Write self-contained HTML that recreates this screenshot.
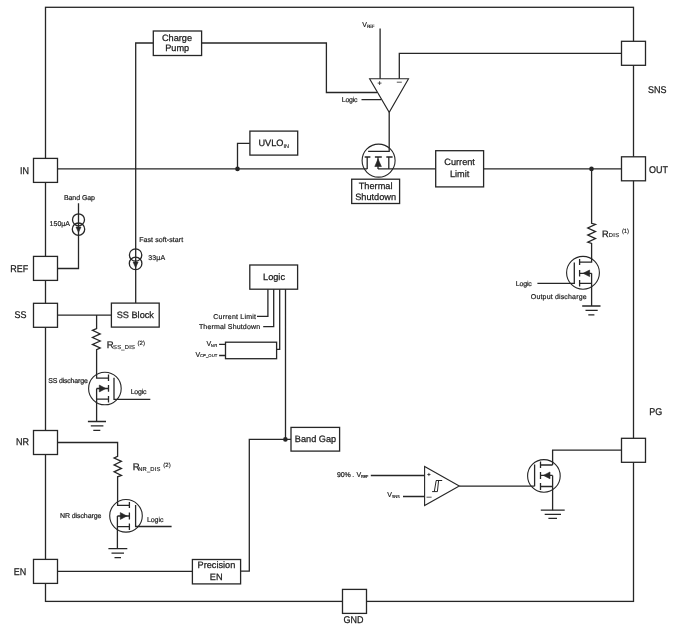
<!DOCTYPE html>
<html><head><meta charset="utf-8">
<style>
html,body{margin:0;padding:0;background:#fff;width:687px;height:631px;overflow:hidden}
svg{display:block;will-change:transform}
text{font-family:"Liberation Sans",sans-serif;text-rendering:geometricPrecision;fill:#1a1a1a;stroke:#1a1a1a;stroke-width:0.25px}
.l{stroke:#262626;stroke-width:1.3;fill:none}
.c{stroke-width:1.1}
.ar{fill:#262626;stroke:#262626;stroke-width:0.6}
.b{stroke:#262626;stroke-width:1.3;fill:#fff}
.p{font-size:9.8px}
.m{font-size:9.2px}
.s{font-size:7px;stroke-width:0.2px}
.sub{font-size:5.8px;stroke-width:0.15px}
.sup{font-size:6px;stroke-width:0.15px}
</style></head><body>
<svg width="687" height="631" viewBox="0 0 687 631">
<!-- frame -->
<rect class="l" x="45.5" y="7.3" width="588" height="594.1"/>

<!-- main IN-OUT line -->
<path class="l" d="M57.5 168.9H367.2 M378 168.9H621.5"/>
<circle cx="237.5" cy="168.9" r="2.3" fill="#262626"/>
<circle cx="591.5" cy="168.9" r="2.3" fill="#262626"/>

<!-- UVLO -->
<path class="l" d="M249.9 143.3H237.5V168.9"/>
<rect class="b" x="249.9" y="131.1" width="47.8" height="24"/>
<text class="m" x="258.4" y="146">UVLO</text><text class="sub" x="283.4" y="147.8" style="font-size:5.5px">IN</text>

<!-- Charge pump wires -->
<path class="l" d="M135.7 303.1V43H153.3 M201.6 43H326.4V92.5H377"/>
<rect class="b" x="153.3" y="31" width="48.3" height="24.5"/>
<text class="m" x="177" y="40.8" text-anchor="middle">Charge</text>
<text class="m" x="177.2" y="50.8" text-anchor="middle">Pump</text>

<!-- opamp -->
<path class="l c" d="M369.6 78.7H408.5L389.2 112.3Z"/>
<path class="l" d="M380.1 28.4V78.7 M399.3 78.7V53.3H621.5 M361.5 99.6H381 M389.2 112.3V151.3H368.1"/>
<text class="s" x="362.2" y="26.6">V</text><text class="sub" x="366.8" y="27.6" style="font-size:4.5px" textLength="7.6">REF</text>
<text class="s" x="341.7" y="102.3" textLength="15.9">Logic</text>
<path class="l" d="M377.7 83.1H381.5 M379.6 81.2V85 M396.8 82.2H401.8" style="stroke-width:0.8"/>

<!-- pass FET -->
<circle class="l c" cx="378.6" cy="160.6" r="16.5"/>
<path class="l" d="M364.7 157H370.4 M374.9 157H381.8 M386.3 157H392.6 M367.2 157V168.9 M388.8 157V168.9 M378 157V168.9"/>
<path class="ar" d="M374.8 166.5H381.4L378 159Z"/>
<rect class="b" x="351.7" y="179.2" width="47.9" height="24.3"/>
<text class="m" x="375.6" y="188.8" text-anchor="middle">Thermal</text>
<text class="m" x="375.6" y="199.6" text-anchor="middle">Shutdown</text>

<!-- Current limit -->
<rect class="b" x="435.7" y="150.7" width="47.9" height="36.2"/>
<text class="m" x="459.6" y="165.2" text-anchor="middle">Current</text>
<text class="m" x="459.6" y="176.5" text-anchor="middle">Limit</text>

<!-- SNS / pins -->
<rect class="b" x="621.5" y="41.3" width="24" height="24"/>
<rect class="b" x="621.5" y="156.8" width="24" height="24"/>
<rect class="b" x="621.5" y="438.3" width="24" height="24"/>
<rect class="b" x="33.5" y="158.4" width="24" height="24"/>
<rect class="b" x="33.5" y="256.4" width="24" height="24"/>
<rect class="b" x="33.5" y="303.3" width="24" height="24"/>
<rect class="b" x="33.5" y="430.5" width="24" height="24"/>
<rect class="b" x="33.5" y="559.4" width="24" height="24"/>
<rect class="b" x="342.5" y="589.4" width="24" height="24"/>
<text class="p" x="648" y="92.5" textLength="18.51" lengthAdjust="spacingAndGlyphs">SNS</text>
<text class="p" x="649" y="172.6" textLength="19.0" lengthAdjust="spacingAndGlyphs">OUT</text>
<text class="p" x="649.2" y="414.6" textLength="13.0" lengthAdjust="spacingAndGlyphs">PG</text>
<text class="p" x="20" y="173.5" textLength="9.0" lengthAdjust="spacingAndGlyphs">IN</text>
<text class="p" x="10.2" y="271.6" textLength="18.0" lengthAdjust="spacingAndGlyphs">REF</text>
<text class="p" x="14.6" y="317.6" textLength="12.01" lengthAdjust="spacingAndGlyphs">SS</text>
<text class="p" x="16" y="444.6" textLength="13.0" lengthAdjust="spacingAndGlyphs">NR</text>
<text class="p" x="13.8" y="574.6" textLength="12.5" lengthAdjust="spacingAndGlyphs">EN</text>
<text class="p" x="343.4" y="623.1" textLength="20.0" lengthAdjust="spacingAndGlyphs">GND</text>

<!-- Band gap current source -->
<path class="l" d="M78.5 203.3V268.5H57.5"/>
<circle class="l" cx="78.5" cy="219.8" r="6"/>
<circle class="l" cx="78.5" cy="229.2" r="6.2"/>
<path d="M76 227H81L78.5 232.3Z" fill="#262626" stroke="#262626" stroke-width="0.6"/>
<text class="s" x="63.9" y="200" textLength="31.1">Band Gap</text>
<text class="s" x="49.6" y="226" textLength="20.4">150µA</text>

<!-- SS -->
<path class="l" d="M57.5 315.1H111.4"/>
<rect class="b" x="111.4" y="303.1" width="47.8" height="24"/>
<text class="m" x="135.3" y="317.5" text-anchor="middle">SS Block</text>
<circle class="l" cx="135.6" cy="255" r="6.2"/>
<circle class="l" cx="135.6" cy="263.4" r="6.3"/>
<path d="M133.1 262H138.1L135.6 267.6Z" fill="#262626" stroke="#262626" stroke-width="0.6"/>
<text class="s" x="139.2" y="242" textLength="43.9">Fast soft-start</text>
<text class="s" x="148.2" y="260" textLength="16.9">33µA</text>

<!-- SS discharge -->
<path class="l" d="M96.6 315V328.6 L92.5 330.3 L100.2 333.9 L92.5 337.5 L100.2 341 L92.5 344.4 L100.2 348 L96.6 349.7 V378.1 H108.5 M96.6 388.5H108.5 M96.6 388.5V421.5 M96.6 399.2H108.5"/>
<circle class="l c" cx="104.9" cy="388.5" r="16.3"/>
<path class="l" d="M108.5 374.6V381 M108.5 385V391.7 M108.5 396V402.5 M114 377.7V399.3H150.3"/>
<path class="ar" d="M99.3 385.1V391.9L105.8 388.5Z"/>
<path class="l" d="M87.9 421.5H106 M90.8 425.9H103.4 M93.3 430.3H100.3"/>
<text class="s" x="48.2" y="383.1" textLength="39.6">SS discharge</text>
<text class="s" x="130.7" y="394" textLength="15.8">Logic</text>
<text class="m" x="106.8" y="347.6" style="font-size:9.6px">R</text><text class="sub" x="113.1" y="348.6" textLength="21.8">SS_DIS</text>
<text class="sup" x="137.6" y="344.5">(2)</text>

<!-- NR discharge -->
<path class="l" d="M57.5 442.5H117.6V456.3 L114.1 458 L121.4 461.3 L114.1 464.9 L121.4 468.4 L114.1 471.8 L121.4 475.4 L117.6 476.8 V505.3H129.4 M117.4 516V548.6 M117.4 516H129.4 M117.4 526.7H129.4"/>
<circle class="l c" cx="126" cy="515.8" r="16.3"/>
<path class="l" d="M129.4 502V508 M129.4 512.5V519.5 M129.4 523.5V530 M135.6 505V526.5H171.6"/>
<path class="ar" d="M120.3 512.6V519.4L126.8 516Z"/>
<path class="l" d="M108.4 548.6H127.3 M111.5 553.1H124 M114.5 557.6H121"/>
<text class="s" x="59.9" y="518" textLength="41.6">NR discharge</text>
<text class="s" x="146.9" y="522" textLength="16.5">Logic</text>
<text class="m" x="132.7" y="470.4" style="font-size:9.6px">R</text><text class="sub" x="138.2" y="470.6" textLength="22.2">NR_DIS</text>
<text class="sup" x="163.3" y="467">(2)</text>

<!-- EN / precision EN -->
<path class="l" d="M57.5 571.4H192.4 M240.6 571.2H249.3V439.4H291"/>
<rect class="b" x="192.4" y="559.5" width="48.2" height="24.4"/>
<text class="m" x="216.4" y="568.4" text-anchor="middle">Precision</text>
<text class="m" x="216.2" y="579.8" text-anchor="middle">EN</text>
<circle cx="285.4" cy="439.4" r="2.3" fill="#262626"/>
<rect class="b" x="291" y="427.4" width="48.6" height="23.7"/>
<text class="m" x="315.5" y="441.7" text-anchor="middle">Band Gap</text>

<!-- Logic block -->
<rect class="b" x="249.8" y="265" width="47.8" height="24.2"/>
<text class="m" x="274" y="279.7" text-anchor="middle">Logic</text>
<path class="l" d="M267.9 289.2V316.4H257 M273.7 289.2V326.7H263.2 M279.7 289.2V349.4H276.6 M285.5 289.2V439.4"/>
<rect class="l" x="225.5" y="342.2" width="51.1" height="16.5"/>
<path class="l" d="M219.1 344.3H225.5 M219.1 355.5H225.5"/>
<text class="s" x="213.3" y="318.8" textLength="42.7">Current Limit</text>
<text class="s" x="198.9" y="329.1" textLength="61.2">Thermal Shutdown</text>
<text class="s" x="206.5" y="345.8">V</text><text class="sub" x="210.7" y="346.6" style="font-size:4.2px" textLength="6.7">NR</text>
<text class="s" x="195.4" y="356.8">V</text><text class="sub" x="199.9" y="357.4" style="font-size:4.2px" textLength="17.5">CP_OUT</text>

<!-- output discharge -->
<path class="l" d="M591.6 168.9V223.3 L595.5 224.4 L587.8 228 L595.5 231.6 L587.8 235.1 L595.5 238.6 L587.8 242.2 L591.6 243.5 V262.2H579.6 M591.6 273.3V306 M591.6 273.3H579.6 M591.6 283.3H579.6"/>
<circle class="l c" cx="583" cy="272.8" r="16.4"/>
<path class="l" d="M579.6 259V265 M579.6 270V276.5 M579.6 280V286.5 M574.3 262.6V283.4H537.4"/>
<path class="ar" d="M589.6 270V276.6L583.1 273.3Z"/>
<path class="l" d="M582.2 306H600.5 M585.5 310.4H597.7 M588.3 314.8H594.4"/>
<text class="s" x="515.7" y="285.6" textLength="16.1">Logic</text>
<text class="s" x="530.8" y="299" textLength="55.8">Output discharge</text>
<text class="m" x="602" y="236.5" style="font-size:9.2px">R</text><text class="sub" x="608.8" y="236.6" textLength="10.2">DIS</text>
<text class="sup" x="621.9" y="233.4" textLength="7">(1)</text>

<!-- PG comparator -->
<path class="l c" d="M424.6 466.5V505.6L459.3 486.1Z"/>
<path class="l" d="M370.8 475.5H424.4 M403 496.5H424.4 M459.3 486.2H534.6 M534.6 464.5V486.2"/>
<path class="l" d="M427.3 474.5H430.5 M428.9 472.9V476.1 M426.5 497.2H431.6" style="stroke-width:0.8"/>
<path class="l" d="M436 480.5H442.2 M436.2 480.5L434.3 491.6 M438.6 480.5L437.4 491.6 M432.1 491.6H437.4" style="stroke-width:1"/>
<text class="s" x="337.1" y="477" textLength="17">90% .</text><text class="s" x="356.5" y="477">V</text><text class="sub" x="360.8" y="477.8" style="font-size:4.2px" textLength="7.6">REF</text>
<text class="s" x="387.3" y="497">V</text><text class="sub" x="391.7" y="497.6" style="font-size:4.2px" textLength="8.1">SNS</text>

<!-- PG FET -->
<circle class="l c" cx="543.9" cy="475.9" r="16.3"/>
<path class="l" d="M552.6 465V450.2H621.5 M552.6 465H540.5 M552.6 475.4V510.2 M552.6 475.4H540.5 M552.6 486.5H540.5 M540.5 461.5V468 M540.5 472V479 M540.5 483V490"/>
<path class="ar" d="M550 472V478.8L543.4 475.4Z"/>
<path class="l" d="M540.8 510.2H564.7 M544.7 514.4H561 M548.4 518.3H557"/>
</svg>
</body></html>
